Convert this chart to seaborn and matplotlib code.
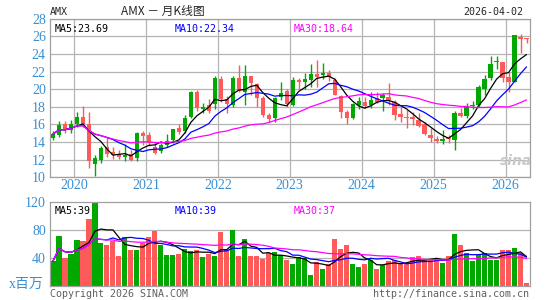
import pandas as pd
import matplotlib
matplotlib.use("Agg")
import matplotlib.pyplot as plt
import seaborn as sns

# monthly bars, Sep 2019 .. Apr 2026
opens = [14.45, 14.85, 16.0, 15.35, 16.05, 16.8, 16.05, 11.5, 12.0, 13.4,
         12.9, 12.7, 12.35, 12.65, 12.15, 15.05, 14.8, 13.4, 13.0, 13.65,
         14.25, 15.6, 15.25, 16.85, 19.7, 17.8, 18.2, 18.3, 21.15, 18.85,
         18.2, 21.25, 19.7, 21.5, 20.65, 19.0, 17.1, 16.7, 19.15, 19.75,
         18.2, 21.1, 20.85, 21.1, 21.7, 21.6, 21.8, 21.1, 19.25, 17.45,
         16.7, 18.2, 18.6, 18.2, 19.0, 19.0, 19.15, 18.6, 17.2, 16.9,
         16.9, 16.5, 16.05, 14.8, 14.4, 14.1, 14.5, 14.25, 17.35, 17.0,
         18.1, 18.2, 20.0, 21.3, 23.15, 23.05, 21.4, 20.85, 25.95, 25.8]
highs = [15.3, 16.4, 16.45, 16.5, 17.45, 18.1, 17.45, 12.5, 13.55, 14.55,
         13.4, 13.1, 13.8, 13.05, 15.2, 15.25, 15.2, 14.05, 13.85, 14.9,
         15.5, 16.1, 17.1, 19.85, 19.9, 18.4, 18.85, 21.5, 21.45, 19.2,
         21.45, 22.75, 22.75, 21.55, 20.7, 19.2, 17.3, 19.1, 20.8, 20.0,
         21.4, 21.3, 21.8, 22.9, 23.3, 23.0, 22.2, 21.3, 19.4, 17.6,
         18.4, 19.15, 19.15, 19.7, 19.7, 19.6, 20.7, 18.8, 18.0, 17.6,
         17.4, 17.25, 16.3, 15.55, 14.7, 15.35, 14.8, 17.5, 17.9, 18.4,
         18.65, 20.5, 21.6, 23.8, 23.8, 23.15, 22.0, 26.2, 26.3, 25.8]
lows = [14.2, 14.55, 15.0, 15.0, 15.75, 15.75, 11.0, 10.15, 11.6, 12.35,
        12.1, 12.1, 11.8, 11.8, 11.8, 13.7, 13.5, 12.65, 12.8, 13.4,
        13.9, 14.9, 15.05, 16.7, 17.5, 17.3, 17.3, 17.7, 18.6, 17.3,
        18.0, 19.7, 18.2, 19.3, 18.0, 16.9, 16.3, 16.3, 18.8, 18.0,
        18.1, 20.0, 20.0, 20.3, 20.3, 21.2, 20.9, 19.3, 16.7, 16.05,
        16.6, 17.8, 17.85, 17.85, 18.4, 17.5, 18.2, 16.5, 16.3, 15.6,
        15.95, 15.75, 14.8, 14.05, 13.85, 13.75, 13.85, 13.1, 16.9, 16.7,
        17.8, 18.0, 19.35, 21.05, 22.25, 20.85, 19.7, 20.8, 24.1, 25.2]
closes = [14.9, 15.9, 15.4, 16.1, 16.85, 16.05, 11.9, 12.15, 13.3, 12.7,
          12.55, 12.35, 12.55, 12.0, 15.05, 14.7, 13.85, 12.8, 13.65, 14.15,
          15.45, 15.15, 16.75, 19.7, 17.85, 17.95, 17.55, 21.25, 18.9, 18.3,
          21.3, 19.8, 21.5, 20.7, 19.0, 17.1, 16.6, 18.95, 19.6, 18.35,
          21.05, 20.8, 21.15, 21.75, 21.4, 21.8, 21.35, 19.4, 17.45, 16.7,
          18.3, 18.7, 18.1, 18.8, 18.6, 19.3, 18.8, 17.1, 16.9, 16.7,
          16.6, 15.85, 14.9, 14.5, 14.15, 14.35, 14.3, 17.35, 17.0, 18.0,
          18.2, 20.2, 21.2, 22.85, 23.25, 21.3, 20.85, 26.15, 25.7, 25.7]
# volume, millions
volumes = [36, 71, 40, 46, 65, 64, 96, 120, 61, 59,
           64, 43, 70, 52, 52, 61, 70, 78, 59, 44,
           44, 46, 53, 50, 51, 42, 46, 43, 77, 52,
           80, 43, 67, 43, 43, 39, 47, 48, 44, 37,
           31, 42, 40, 16, 35, 24, 32, 67, 53, 58,
           31, 27, 32, 38, 25, 30, 36, 37, 32, 32,
           41, 43, 38, 38, 38, 33, 43, 74, 58, 47,
           36, 44, 47, 37, 38, 52, 52, 55, 47, 5]
vol_dir = "GGRGGRRGGRRRGRGRRRGGGRGGRGRGRRGRGRRRRGGRGGGGRGRRRRGGRGRGRRRRRRRRRGRGRGGGGGGRRGRR"

years = ["2020", "2021", "2022", "2023", "2024", "2025", "2026"]
year_pos = [3.5, 15.5, 27.5, 39.5, 51.5, 63.5, 75.5]
price_ticks = [10, 12, 14, 16, 18, 20, 22, 24, 26, 28]
vol_ticks = [40, 80, 120]

UP = "#00a800"
DOWN = "#ff5a5a"
TICK = "#3a8fd0"
GRID = "#b4b4b4"

df = pd.DataFrame({"o": opens, "h": highs, "l": lows, "c": closes, "v": volumes})
df["i"] = range(len(df))
df["ma5"] = df["c"].rolling(5, min_periods=1).mean()
df["ma10"] = df["c"].rolling(10, min_periods=1).mean()
df["ma30"] = df["c"].rolling(30, min_periods=1).mean()
df["vma5"] = df["v"].rolling(5, min_periods=1).mean()
df["vma10"] = df["v"].rolling(10, min_periods=1).mean()
df["vma30"] = df["v"].rolling(30, min_periods=1).mean()

sns.set_style("white")
plt.rcParams["font.family"] = ["DejaVu Sans Mono"]

fig = plt.figure(figsize=(5.45, 3.0), dpi=100)
W, H = 545.0, 300.0
ax = fig.add_axes([50 / W, 1 - 177.3 / H, 479.5 / W, (177.3 - 18.8) / H])
axv = fig.add_axes([50 / W, 1 - 286.3 / H, 479.5 / W, (286.3 - 201.7) / H])

# --- price panel
for y in price_ticks:
    ax.axhline(y, color=GRID, lw=0.9, zorder=0)
for x in year_pos:
    ax.axvline(x, color=GRID, lw=0.9, zorder=0)

for _, r in df.iterrows():
    col = UP if r["c"] >= r["o"] else DOWN
    ax.vlines(r["i"], r["l"], r["h"], color=col, lw=1.0, zorder=2)
    lo = min(r["o"], r["c"])
    hgt = max(abs(r["c"] - r["o"]), 0.08)
    ax.bar(r["i"], hgt, bottom=lo, width=0.72, color=col, lw=0, zorder=3)

sns.lineplot(data=df, x="i", y="ma5", ax=ax, color="black", lw=0.9, zorder=4)
sns.lineplot(data=df, x="i", y="ma10", ax=ax, color="#0000ff", lw=0.9, zorder=4)
sns.lineplot(data=df, x="i", y="ma30", ax=ax, color="#ff00ff", lw=0.9, zorder=4)

ax.set_xlim(-0.5, len(df) - 0.5)
ax.set_ylim(10, 28)
ax.set_yticks(price_ticks)
ax.set_yticklabels([str(t) for t in price_ticks], family="Liberation Serif",
                   fontsize=10, color=TICK)
ax.set_xticks(year_pos)
ax.set_xticklabels(years, family="Liberation Serif", fontsize=10, color=TICK)
ax.tick_params(length=0, pad=3)
ax.tick_params(axis="x", pad=1)
ax.set_xlabel("")
ax.set_ylabel("")
for s in ax.spines.values():
    s.set_color("#a0a0a0")
    s.set_linewidth(0.9)

ax.text(0.01, 0.965, "MA5:23.69", transform=ax.transAxes, fontsize=7.2,
        color="black", va="top", ha="left")
ax.text(0.259, 0.965, "MA10:22.34", transform=ax.transAxes, fontsize=7.2,
        color="#0000ff", va="top", ha="left")
ax.text(0.509, 0.965, "MA30:18.64", transform=ax.transAxes, fontsize=7.2,
        color="#ff00ff", va="top", ha="left")

# --- volume panel
vdf = df.copy()
vdf["dir"] = list(vol_dir)
for y in [40, 80]:
    axv.axhline(y, color=GRID, lw=0.9, zorder=0)
sns.barplot(data=vdf, x="i", y="v", hue="dir", palette={"G": UP, "R": DOWN},
            dodge=False, width=0.85, legend=False, ax=axv, zorder=2,
            linewidth=0, saturation=1)
sns.lineplot(x=df["i"], y=df["vma5"], ax=axv, color="black", lw=0.9, zorder=4)
sns.lineplot(x=df["i"], y=df["vma10"], ax=axv, color="#0000ff", lw=0.9, zorder=4)
sns.lineplot(x=df["i"], y=df["vma30"], ax=axv, color="#ff00ff", lw=0.9, zorder=4)
axv.set_xlim(-0.5, len(df) - 0.5)
axv.set_ylim(0, 120)
axv.set_yticks(vol_ticks)
axv.set_yticklabels([str(t) for t in vol_ticks], family="Liberation Serif",
                    fontsize=10, color=TICK)
axv.set_xticks([])
axv.tick_params(length=0, pad=3)
axv.set_xlabel("")
axv.set_ylabel("")
for s in axv.spines.values():
    s.set_color("#a0a0a0")
    s.set_linewidth(0.9)

axv.text(0.01, 0.95, "MA5:39", transform=axv.transAxes, fontsize=7.2,
         color="black", va="top", ha="left")
axv.text(0.259, 0.95, "MA10:39", transform=axv.transAxes, fontsize=7.2,
         color="#0000ff", va="top", ha="left")
axv.text(0.509, 0.95, "MA30:37", transform=axv.transAxes, fontsize=7.2,
         color="#ff00ff", va="top", ha="left")

# --- header / footer texts
fig.text(50 / W, 1 - 12 / H, "AMX", fontsize=7.2, va="center", ha="left")
fig.text(121 / W, 1 - 11 / H, "AMX － 月K线图", fontsize=8.5, va="center",
         ha="left", family=["Noto Sans CJK SC", "DejaVu Sans"])
fig.text(523 / W, 1 - 12 / H, "2026-04-02", fontsize=7.2, va="center", ha="right")
fig.text(44 / W, 1 - 284 / H, "x百万", fontsize=10, va="center", ha="right",
         color=TICK, family=["Liberation Serif", "Noto Sans CJK SC"])
fig.text(50 / W, 1 - 294 / H, "Copyright 2026 SINA.COM", fontsize=7.2,
         va="center", ha="left", color="#606060")
fig.text(529 / W, 1 - 294 / H, "http://finance.sina.com.cn", fontsize=7.2,
         va="center", ha="right", color="#606060")
fig.text(516 / W, 1 - 161 / H, "sina", fontsize=10, va="center", ha="center",
         color="#c8c8c8", style="italic", weight="bold", family="DejaVu Sans")

fig.savefig("out.png", dpi=100)
